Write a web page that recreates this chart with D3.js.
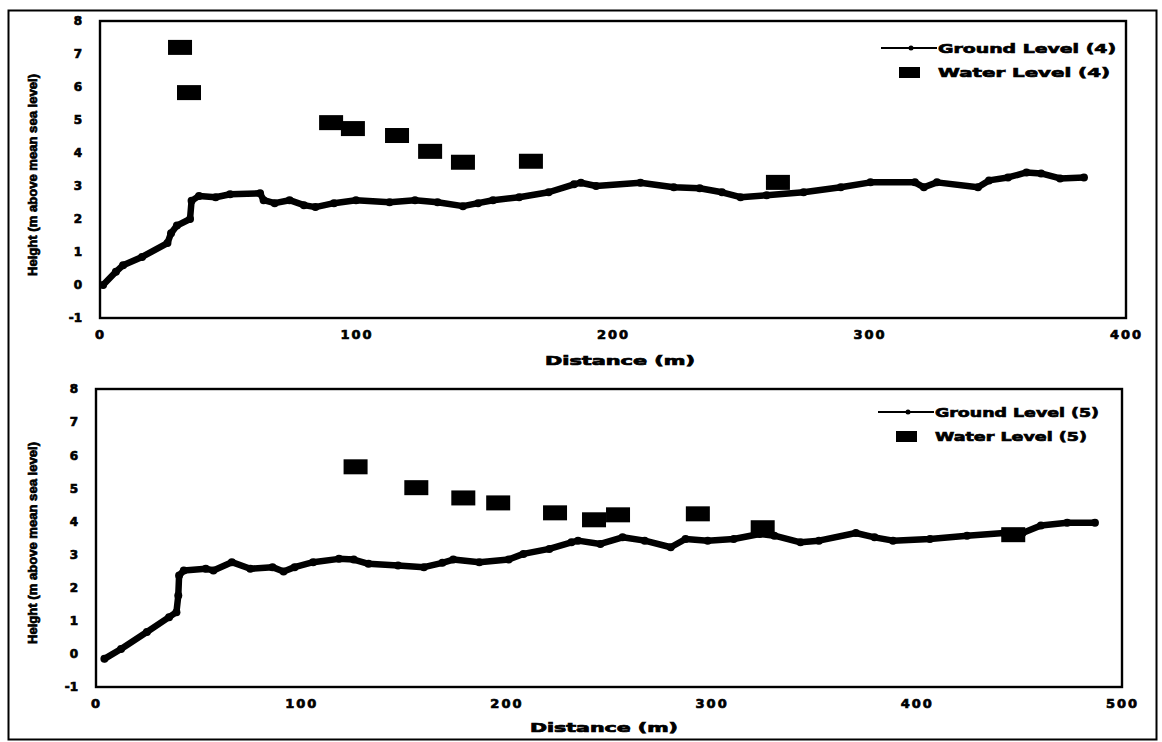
<!DOCTYPE html>
<html>
<head>
<meta charset="utf-8">
<script src="https://cdn.jsdelivr.net/npm/d3@7"></script>
<style>
  html, body { margin: 0; padding: 0; background: #fff; }
  svg { display: block; }
  text { font-family: "DejaVu Sans", "Liberation Sans", sans-serif; font-weight: bold; fill: #000; }
  .heavy { stroke: #000; stroke-width: 0.7px; }
</style>
</head>
<body>
<svg id="chart" width="1162" height="742"></svg>
<script>
// ---------- DATA ----------
const xTicksTop = [0, 100, 200, 300, 400];
const xTicksBottom = [0, 100, 200, 300, 400, 500];
const yTicks = [-1, 0, 1, 2, 3, 4, 5, 6, 7, 8];

const groundDist4 = [1.2, 6.2, 9, 16.4, 26.3, 27.7, 30, 35.1, 35.7, 38.6, 45.1, 50.7, 62.4, 63.8, 68.1, 73.9, 79.5, 84, 91.2, 99.8, 112.9, 122.8, 131.6, 141.5, 147.4, 153.2, 163.4, 174.9, 184.8, 187.5, 193.4, 210.7, 223.7, 233.8, 242.5, 249.7, 259.9, 274.3, 288.8, 300.4, 317.7, 321.2, 326.3, 342.3, 346.6, 354, 361.2, 366.9, 374.3, 383.6];
const groundHeight4 = [0, 0.4, 0.6, 0.85, 1.27, 1.57, 1.8, 2.0, 2.55, 2.7, 2.66, 2.75, 2.78, 2.57, 2.48, 2.57, 2.42, 2.36, 2.48, 2.57, 2.51, 2.57, 2.51, 2.39, 2.48, 2.57, 2.66, 2.81, 3.05, 3.1, 3.0, 3.1, 2.96, 2.93, 2.81, 2.66, 2.72, 2.81, 2.96, 3.11, 3.11, 2.96, 3.11, 2.96, 3.17, 3.26, 3.41, 3.38, 3.23, 3.26];

const waterDist4 = [31.2, 34.7, 90.1, 98.6, 115.8, 128.7, 141.5, 168.0, 264.3];
const waterHeight4 = [7.2, 5.83, 4.92, 4.74, 4.53, 4.05, 3.72, 3.75, 3.11];

const groundDist5 = [4.1, 12.2, 24.8, 35.6, 39.2, 40.1, 40.5, 42.8, 53.5, 57.2, 66.2, 75.2, 86, 91.4, 96.8, 105.8, 118.4, 125.6, 132.8, 147.2, 159.8, 168.8, 174.1, 186.8, 201.1, 208.3, 220.9, 231.7, 234.9, 245.8, 256.6, 267.4, 280.1, 287.3, 298.1, 310.8, 323.4, 330.6, 343.3, 352.3, 370.3, 379.4, 388.4, 406.4, 424.5, 442.5, 451.5, 460.5, 473.3, 486.8];
const groundHeight5 = [-0.15, 0.15, 0.66, 1.11, 1.26, 1.76, 2.37, 2.52, 2.57, 2.52, 2.77, 2.57, 2.62, 2.49, 2.62, 2.77, 2.87, 2.85, 2.72, 2.67, 2.62, 2.75, 2.85, 2.77, 2.85, 3.02, 3.17, 3.37, 3.42, 3.32, 3.52, 3.42, 3.22, 3.47, 3.42, 3.47, 3.62, 3.57, 3.37, 3.42, 3.65, 3.52, 3.42, 3.47, 3.57, 3.65, 3.65, 3.88, 3.96, 3.96];

const waterDist5 = [126.5, 156.1, 179, 196, 223.7, 242.7, 254.4, 293.3, 324.9, 447];
const waterHeight5 = [5.65, 5.02, 4.71, 4.56, 4.26, 4.05, 4.2, 4.23, 3.81, 3.6];

const legendTop = ["Ground Level (4)", "Water Level (4)"];
const legendBottom = ["Ground Level (5)", "Water Level (5)"];
const xTitle = "Distance (m)";
const yTitle = "Height (m above mean sea level)";

// ---------- DRAW ----------
const svg = d3.select("#chart");

// outer border
svg.append("rect")
  .attr("x", 8.5).attr("y", 10.5).attr("width", 1148).attr("height", 729)
  .attr("fill", "none").attr("stroke", "#000").attr("stroke-width", 2);

function panel(cfg) {
  const x = d3.scaleLinear().domain(cfg.xDomain).range([cfg.left, cfg.right]);
  const y = d3.scaleLinear().domain([-1, 8]).range([cfg.bottom, cfg.top]);
  const g = svg.append("g");

  // plot frame
  g.append("rect")
    .attr("x", cfg.left).attr("y", cfg.top)
    .attr("width", cfg.right - cfg.left).attr("height", cfg.bottom - cfg.top)
    .attr("fill", "none").attr("stroke", "#000").attr("stroke-width", 2.4);

  // y axis (labels only)
  const yAxis = d3.axisLeft(y).tickValues(yTicks).tickSize(0).tickPadding(18)
    .tickFormat(d => d);
  const ya = g.append("g").attr("transform", `translate(${cfg.left},0)`).call(yAxis);
  ya.select(".domain").remove();
  ya.selectAll("text").attr("font-size", 12).attr("class", "heavy")
    .style("font-family", "DejaVu Sans").style("font-weight", "bold");

  // x axis (labels only)
  const xAxis = d3.axisBottom(x).tickValues(cfg.xTicks).tickSize(0).tickPadding(12)
    .tickFormat(d => d);
  const xa = g.append("g").attr("transform", `translate(0,${cfg.bottom})`).call(xAxis);
  xa.select(".domain").remove();
  xa.selectAll("text").attr("font-size", 13).attr("class", "heavy")
    .style("font-family", "DejaVu Sans").style("font-weight", "bold")
    .attr("letter-spacing", 2);

  // axis titles
  g.append("text").attr("class", "heavy")
    .attr("x", cfg.xTitleX).attr("y", cfg.xTitleY)
    .attr("text-anchor", "middle").attr("font-size", 12)
    .attr("textLength", cfg.xTitleLen).attr("lengthAdjust", "spacingAndGlyphs")
    .text(xTitle);
  g.append("text").attr("class", "heavy")
    .attr("transform", `translate(${cfg.yTitleX},${cfg.yTitleY}) rotate(-90)`)
    .attr("text-anchor", "middle").attr("font-size", 12.5)
    .style("font-family", "Liberation Sans")
    .attr("textLength", 202).attr("lengthAdjust", "spacingAndGlyphs")
    .text(yTitle);

  // ground line
  const pts = cfg.gd.map((d, i) => [d, cfg.gh[i]]);
  const line = d3.line().x(d => x(d[0])).y(d => y(d[1])).curve(d3.curveLinear);
  g.append("path").datum(pts)
    .attr("d", line).attr("fill", "none").attr("stroke", "#000")
    .attr("stroke-width", 6.5).attr("stroke-linejoin", "round").attr("stroke-linecap", "round");
  g.selectAll("circle.gp").data(pts).enter().append("circle")
    .attr("class", "gp").attr("cx", d => x(d[0])).attr("cy", d => y(d[1])).attr("r", 4).attr("fill", "#000");

  // water level squares
  const wpts = cfg.wd.map((d, i) => [d, cfg.wh[i]]);
  g.selectAll("rect.wl").data(wpts).enter().append("rect")
    .attr("class", "wl")
    .attr("x", d => x(d[0]) - 12).attr("y", d => y(d[1]) - 7.5)
    .attr("width", 24).attr("height", 15).attr("fill", "#000");

  // legend
  const lx = cfg.legendX, ly = cfg.legendY;
  g.append("line").attr("x1", lx).attr("x2", lx + 56).attr("y1", ly).attr("y2", ly)
    .attr("stroke", "#000").attr("stroke-width", 2);
  g.append("circle").attr("cx", lx + 30).attr("cy", ly).attr("r", 2.5).attr("fill", "#000");
  g.append("text").attr("class", "heavy").attr("x", lx + 57).attr("y", ly + 5).attr("font-size", 13)
    .attr("textLength", cfg.legendLen[0]).attr("lengthAdjust", "spacingAndGlyphs")
    .text(cfg.legend[0]);
  g.append("rect").attr("x", lx + 18).attr("y", ly + 19).attr("width", 21).attr("height", 11).attr("fill", "#000");
  g.append("text").attr("class", "heavy").attr("x", lx + 57).attr("y", ly + 29).attr("font-size", 13)
    .attr("textLength", cfg.legendLen[1]).attr("lengthAdjust", "spacingAndGlyphs")
    .text(cfg.legend[1]);
}

panel({
  xDomain: [0, 400], xTicks: xTicksTop,
  left: 100, right: 1126, top: 21, bottom: 318,
  gd: groundDist4, gh: groundHeight4, wd: waterDist4, wh: waterHeight4,
  legend: legendTop, legendX: 881, legendY: 48, legendLen: [178, 172],
  xTitleX: 620, xTitleY: 365, xTitleLen: 150, yTitleX: 37, yTitleY: 175
});

panel({
  xDomain: [0, 500], xTicks: xTicksBottom,
  left: 96, right: 1122, top: 389, bottom: 687,
  gd: groundDist5, gh: groundHeight5, wd: waterDist5, wh: waterHeight5,
  legend: legendBottom, legendX: 878, legendY: 412, legendLen: [164, 152],
  xTitleX: 604, xTitleY: 732, xTitleLen: 148, yTitleX: 37, yTitleY: 543
});
</script>
</body>
</html>
